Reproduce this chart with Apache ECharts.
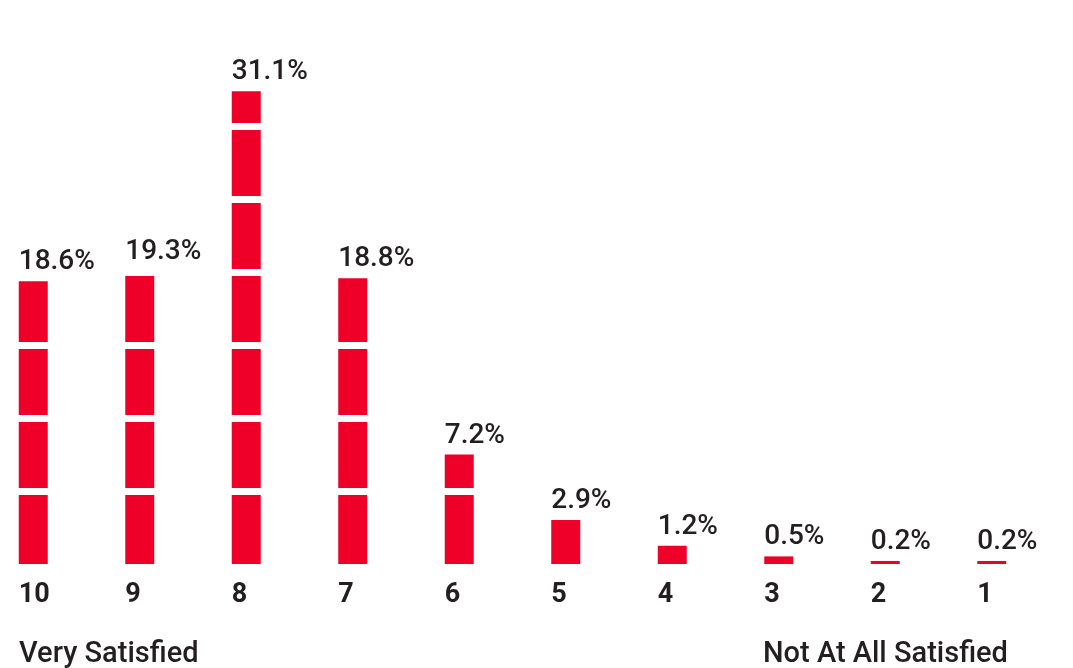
<!DOCTYPE html>
<html>
<head>
<meta charset="utf-8">
<script src="https://cdn.jsdelivr.net/npm/echarts@6/dist/echarts.min.js"></script>
<style>
  html, body { margin: 0; padding: 0; background: #fff; }
  #chart { width: 1073px; height: 668px; }
</style>
</head>
<body>
<div id="chart"></div>
<script>
// satisfaction score (10 = very satisfied ... 1 = not at all)
const scores = ['10', '9', '8', '7', '6', '5', '4', '3', '2', '1']
const shares = [18.6, 19.3, 31.1, 18.8, 7.2, 2.9, 1.2, 0.5, 0.2, 0.2]
const endLabels = ['Very Satisfied', 'Not At All Satisfied']

const red = '#ee0029'
const ink = '#231f20'
const font = 'Roboto, "Noto Sans", sans-serif'

const chart = echarts.init(document.getElementById('chart'))

chart.setOption({
  animation: false,
  title: [
    {
      text: endLabels[0],
      left: 19,
      top: 640,
      padding: 0,
      textStyle: { fontFamily: font, fontSize: 29, fontWeight: 500, color: ink }
    },
    {
      text: endLabels[1],
      left: 763,
      top: 640,
      padding: 0,
      textStyle: { fontFamily: font, fontSize: 29, fontWeight: 500, color: ink }
    }
  ],
  grid: {
    left: -20,
    right: 28,
    top: 53.28,
    bottom: 104,
    outerBoundsMode: 'none',
    containLabel: false
  },
  xAxis: {
    type: 'category',
    data: scores,
    axisLine: { show: false },
    axisTick: { show: false },
    axisLabel: {
      margin: 18,
      align: 'left',
      padding: [0, 0, 0, -14.5],
      fontFamily: font,
      fontSize: 27,
      fontWeight: 'bold',
      color: ink
    }
  },
  yAxis: {
    type: 'value',
    min: 0,
    max: 33.6,
    interval: 4.8,
    z: 10,
    axisLine: { show: false },
    axisTick: { show: false },
    axisLabel: { show: false },
    splitLine: {
      show: true,
      showMinLine: false,
      showMaxLine: false,
      lineStyle: { color: '#fff', width: 7 }
    }
  },
  series: [
    {
      // red columns, cut by the white split lines above them
      type: 'bar',
      data: shares,
      barWidth: 29,
      itemStyle: { color: red }
    },
    {
      // transparent copy that only carries the labels above the split lines
      type: 'bar',
      data: shares,
      barWidth: 29,
      barGap: '-100%',
      z: 20,
      itemStyle: { color: 'rgba(0,0,0,0)' },
      label: {
        show: true,
        position: 'top',
        align: 'left',
        offset: [-14.5, 0],
        distance: 5,
        formatter: p => p.value.toFixed(1) + '%',
        fontFamily: font,
        fontSize: 28,
        fontWeight: 500,
        color: ink
      }
    }
  ]
})
</script>
</body>
</html>
